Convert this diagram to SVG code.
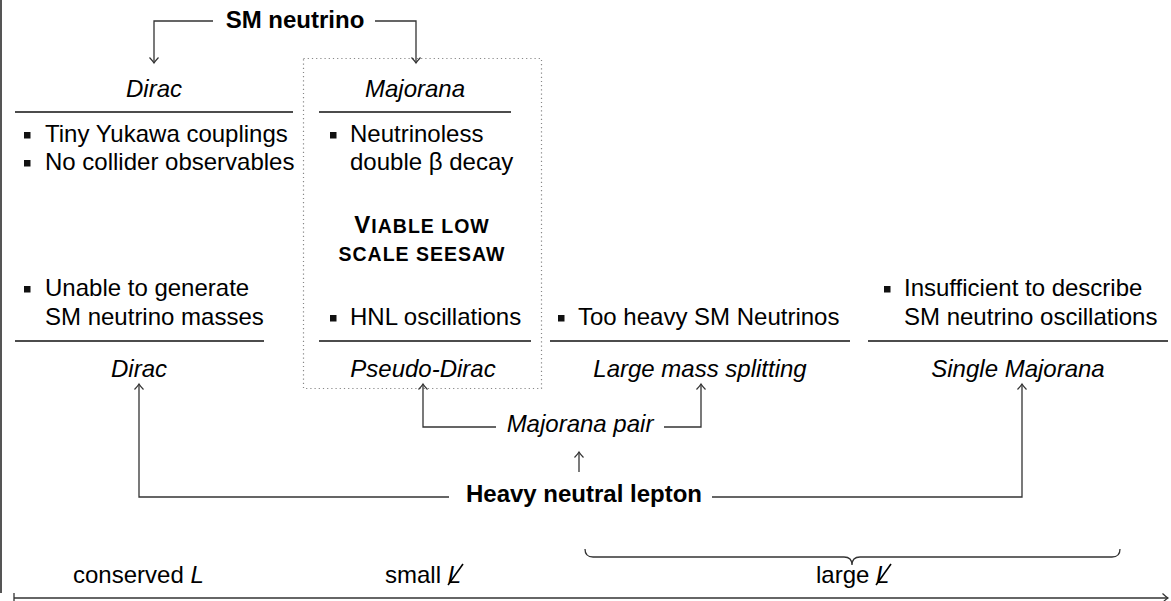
<svg xmlns="http://www.w3.org/2000/svg" width="1171" height="601" viewBox="0 0 1171 601">
<defs>
<style>
text{font-family:"Liberation Sans",Arial,sans-serif;font-size:24px;fill:#000}
.b{font-weight:bold}
.i{font-style:italic}
.m{text-anchor:middle}
.sc{font-weight:bold;letter-spacing:1px}
.s19{font-size:19.5px}
.rule{stroke:#111;stroke-width:1.5}
.conn{fill:none;stroke:#333;stroke-width:1.3}
.slash{stroke:#000;stroke-width:1.6}
.bul{fill:#111}
.box{fill:none;stroke:#888;stroke-width:1.2;stroke-dasharray:1.2 3}
</style>
<marker id="to" viewBox="-7 -6 9 12" markerWidth="9" markerHeight="12" refX="0" refY="0" orient="auto" markerUnits="userSpaceOnUse">
<path d="M-5.5,-4.5 Q-1.8,-1 0,0 Q-1.8,1 -5.5,4.5" fill="none" stroke="#333" stroke-width="1.2"/>
</marker>
</defs>
<rect width="1171" height="601" fill="#fff"/>
<line x1="1" y1="0" x2="1" y2="593" stroke="#555" stroke-width="2"/>

<g id="sm-neutrino"><text class="b m" x="295" y="28">SM neutrino</text></g>

<rect id="viable-box" class="box" x="303.5" y="58.5" width="238" height="330"/>

<g id="dirac-top">
<text class="i m" x="154" y="97">Dirac</text>
<line class="rule" x1="15" y1="112" x2="293" y2="112"/>
<rect class="bul" x="24" y="132" width="6.5" height="6.5"/>
<text x="45" y="142">Tiny Yukawa couplings</text>
<rect class="bul" x="24" y="160" width="6.5" height="6.5"/>
<text x="45" y="170">No collider observables</text>
</g>

<g id="majorana-top">
<text class="i m" x="415" y="97">Majorana</text>
<line class="rule" x1="319" y1="112" x2="511" y2="112"/>
<rect class="bul" x="330" y="132" width="6.5" height="6.5"/>
<text x="350" y="142">Neutrinoless</text>
<text x="350" y="170">double β decay</text>
</g>

<g id="viable"><text class="sc m" x="422" y="233">V<tspan class="s19">IABLE LOW</tspan></text>
<text class="sc m" x="422" y="261"><tspan class="s19">SCALE SEESAW</tspan></text></g>

<g id="dirac-bottom">
<rect class="bul" x="24" y="286" width="6.5" height="6.5"/>
<text x="45" y="296">Unable to generate</text>
<text x="45" y="325">SM neutrino masses</text>
<line class="rule" x1="15" y1="341" x2="264" y2="341"/>
<text class="i m" x="139" y="377">Dirac</text>
</g>

<g id="pseudo-dirac">
<rect class="bul" x="330" y="315" width="6.5" height="6.5"/>
<text x="350" y="325">HNL oscillations</text>
<line class="rule" x1="319" y1="341" x2="531" y2="341"/>
<text class="i m" x="423" y="377">Pseudo-Dirac</text>
</g>

<g id="large-splitting">
<rect class="bul" x="558" y="315" width="6.5" height="6.5"/>
<text x="578" y="325">Too heavy SM Neutrinos</text>
<line class="rule" x1="550" y1="341" x2="850" y2="341"/>
<text class="i m" x="700" y="377">Large mass splitting</text>
</g>

<g id="single-majorana">
<rect class="bul" x="884" y="286" width="6.5" height="6.5"/>
<text x="904" y="296">Insufficient to describe</text>
<text x="904" y="325">SM neutrino oscillations</text>
<line class="rule" x1="868" y1="341" x2="1168" y2="341"/>
<text class="i m" x="1018" y="377">Single Majorana</text>
</g>

<g id="majorana-pair"><text class="i m" x="580" y="432">Majorana pair</text></g>
<g id="hnl"><text class="b m" x="584" y="502">Heavy neutral lepton</text></g>

<g id="connectors">
<path class="conn" d="M213,21 H154 V63" marker-end="url(#to)"/>
<path class="conn" d="M375,21 H416 V63" marker-end="url(#to)"/>
<path class="conn" d="M496,427 H423 V384" marker-end="url(#to)"/>
<path class="conn" d="M664,427 H701 V384" marker-end="url(#to)"/>
<path class="conn" d="M579,472 V452" marker-end="url(#to)"/>
<path class="conn" d="M449,497 H139 V384" marker-end="url(#to)"/>
<path class="conn" d="M712,497 H1022 V384" marker-end="url(#to)"/>
</g>

<g id="brace"><path class="conn" d="M585,549 Q585,557 593,557 H844 Q852,557 852,565 Q852,557 860,557 H1112 Q1120,557 1120,549"/></g>

<g id="axis">
<line class="conn" x1="14" y1="593" x2="14" y2="603"/>
<path class="conn" d="M14,598 H1168" marker-end="url(#to)"/>
<text x="73" y="583">conserved <tspan class="i">L</tspan></text>
<text x="385" y="583">small <tspan class="i">L</tspan></text>
<line class="slash" x1="448" y1="585" x2="463" y2="564"/>
<text x="816" y="583">large <tspan class="i">L</tspan></text>
<line class="slash" x1="876" y1="585" x2="891" y2="564"/>
</g>
</svg>
